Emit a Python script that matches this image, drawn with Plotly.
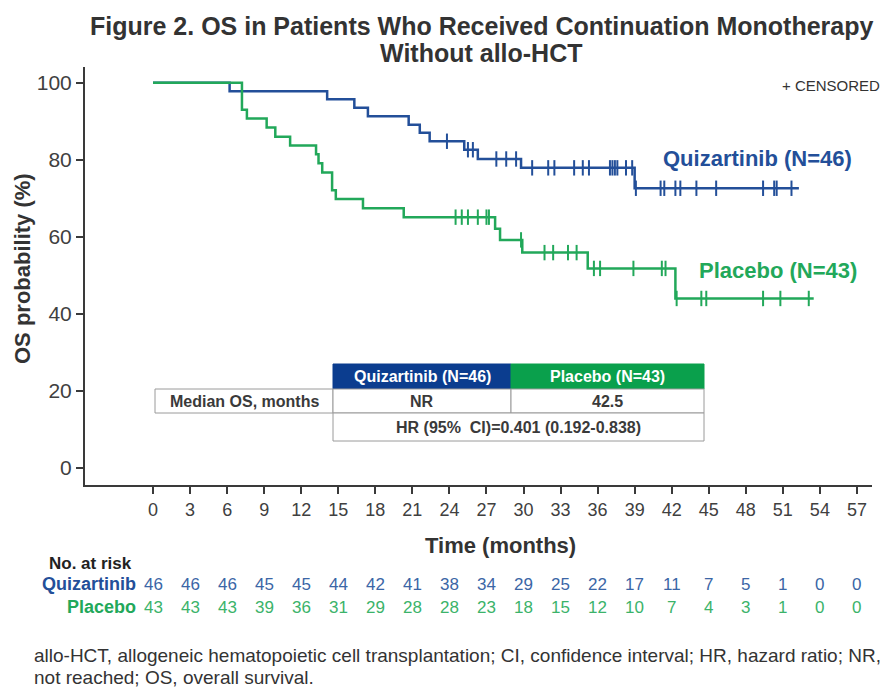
import plotly.graph_objects as go

# ---------------- data ----------------
quiz_times = [0, 6.2, 14.1, 16.3, 17.4, 20.7, 21.6, 22.4, 25.2, 26.3, 29.8, 39.0]
quiz_surv = [100, 97.8, 95.7, 93.5, 91.3, 89.1, 87.0, 84.8, 82.6, 80.2, 77.9, 72.6]
quiz_end = 52.3
quiz_censor = [23.8, 25.5, 25.9, 27.8, 28.6, 29.4, 30.7, 32.0, 32.5, 34.1, 34.8, 35.3,
               37.0, 37.2, 37.4, 37.6, 38.3, 38.8, 39.1, 41.1, 41.4, 42.3, 42.7, 44.0,
               45.6, 49.4, 50.3, 50.5, 51.7]

plac_times = [0, 7.2, 7.6, 9.2, 9.9, 11.1, 13.2, 13.4, 13.7, 14.5, 14.8, 17.0, 20.3,
              27.7, 28.1, 29.9, 35.2, 42.3]
plac_surv = [100, 93.0, 90.7, 88.4, 86.0, 83.7, 81.4, 79.1, 76.7, 72.1, 69.8, 67.4, 65.1,
             62.1, 59.2, 55.9, 51.8, 44.0]
plac_end = 53.5
plac_censor = [24.5, 25.0, 25.5, 26.3, 27.0, 27.2, 29.8, 31.7, 32.4, 33.6, 34.3, 35.7,
               36.2, 38.9, 41.2, 41.5, 42.4, 44.4, 44.8, 49.4, 50.8, 53.1]

risk_times = list(range(0, 58, 3))
quiz_risk = [46, 46, 46, 45, 45, 44, 42, 41, 38, 34, 29, 25, 22, 17, 11, 7, 5, 1, 0, 0]
plac_risk = [43, 43, 43, 39, 36, 31, 29, 28, 28, 23, 18, 15, 12, 10, 7, 4, 3, 1, 0, 0]

y_ticks = [0, 20, 40, 60, 80, 100]

title_lines = ["Figure 2. OS in Patients Who Received Continuation Monotherapy",
               "Without allo-HCT"]
footnote_lines = ["allo-HCT, allogeneic hematopoietic cell transplantation; CI, confidence interval; HR, hazard ratio; NR,",
                  "not reached; OS, overall survival."]

# ---------------- styles ----------------
BLUE = "#234f99"
BLUE_HDR = "#0b3d8f"
BLUE_RISK = "#3b66a6"
GREEN = "#22a85a"
GREEN_HDR = "#0aa04c"
GREEN_RISK = "#3bb36a"
DARK = "#333333"
FONT = "Liberation Sans, Arial, sans-serif"

W, H = 889, 691
L, R, T, B = 85, 872, 67, 485


def px(xp):
    return (xp - L) / (R - L)


def py(yp):
    return (B - yp) / (B - T)


def step_value(times, surv, t):
    v = surv[0]
    for ti, si in zip(times, surv):
        if ti <= t:
            v = si
    return v


fig = go.Figure()

for times, surv, end, cens, col in [
    (quiz_times, quiz_surv, quiz_end, quiz_censor, BLUE),
    (plac_times, plac_surv, plac_end, plac_censor, GREEN),
]:
    xs = list(times) + [end]
    ys = list(surv) + [surv[-1]]
    fig.add_trace(go.Scatter(x=xs, y=ys, mode="lines", line=dict(color=col, width=2.5, shape="hv"),
                             hoverinfo="skip"))
    fig.add_trace(go.Scatter(x=cens, y=[step_value(times, surv, c) for c in cens], mode="markers",
                             marker=dict(symbol="line-ns", size=11, line=dict(color=col, width=2)),
                             hoverinfo="skip"))

fig.update_layout(
    width=W, height=H,
    margin=dict(l=L, r=W - R, t=T, b=H - B),
    plot_bgcolor="white", paper_bgcolor="white",
    showlegend=False,
    font=dict(family=FONT, color=DARK),
    xaxis=dict(range=[-5.51, 58.22], tickvals=risk_times, showline=True, linecolor="#3a3a3a",
               linewidth=2, ticks="outside", ticklen=7, tickwidth=1.5, tickcolor="#3a3a3a",
               tickfont=dict(size=18, color="#404040"), showgrid=False, zeroline=False),
    yaxis=dict(range=[-4.41, 104.07], tickvals=y_ticks, showline=True, linecolor="#3a3a3a",
               linewidth=2, ticks="outside", ticklen=7, tickwidth=1.5, tickcolor="#3a3a3a",
               tickfont=dict(size=21, color="#404040"), showgrid=False, zeroline=False),
)

ann = []


def note(text, xp, yp, size, color, xanchor="center", xref="paper", **kw):
    ann.append(dict(text=text, x=(px(xp) if xref == "paper" else xp), y=py(yp), xref=xref, yref="paper",
                    showarrow=False, font=dict(size=size, color=color),
                    xanchor=xanchor, yanchor="middle", **kw))


# title
note("<b>%s</b>" % title_lines[0], 481, 26, 25, DARK)
note("<b>%s</b>" % title_lines[1], 481, 53, 25, DARK)
# axis titles
note("<b>OS probability (%)</b>", 22, 269, 22, DARK, textangle=-90)
note("<b>Time (months)</b>", 500, 545, 22, DARK)
# censored note
note("+ CENSORED", 882, 86, 15, DARK, xanchor="right")
# curve labels
note("<b>Quizartinib (N=46)</b>", 757, 158, 22, BLUE)
note("<b>Placebo (N=43)</b>", 778, 270, 22, GREEN)

# table
shapes = []


def cell(x0, x1, y0, y1, fill, text, tcol, border="#9a9a9a"):
    shapes.append(dict(type="rect", xref="paper", yref="paper", x0=px(x0), x1=px(x1), y0=py(y1), y1=py(y0),
                       fillcolor=fill, line=dict(color=border, width=1), layer="above"))
    note("<b>%s</b>" % text, (x0 + x1) / 2, (y0 + y1) / 2, 16, tcol)


cell(333, 511, 364, 389, BLUE_HDR, "Quizartinib (N=46)", "white", border=BLUE_HDR)
cell(511, 704, 364, 389, GREEN_HDR, "Placebo (N=43)", "white", border=GREEN_HDR)
cell(155, 333, 389, 413, "white", "Median OS, months", "#3a3a3a")
cell(333, 511, 389, 413, "white", "NR", "#3a3a3a")
cell(511, 704, 389, 413, "white", "42.5", "#3a3a3a")
cell(333, 704, 413, 441, "white", "HR (95%  CI)=0.401 (0.192-0.838)", "#3a3a3a")

# risk table
note("<b>No. at risk</b>", 47, 563, 17, "#222222", xanchor="left")
note("<b>Quizartinib</b>", 138, 584, 18, BLUE, xanchor="right")
note("<b>Placebo</b>", 138, 607, 18, GREEN, xanchor="right")
for t, q, p in zip(risk_times, quiz_risk, plac_risk):
    note(str(q), t, 584, 17, BLUE_RISK, xref="x")
    note(str(p), t, 607, 17, GREEN_RISK, xref="x")

# footnote
note(footnote_lines[0], 32, 655, 19, DARK, xanchor="left")
note(footnote_lines[1], 32, 677, 19, DARK, xanchor="left")

fig.update_layout(annotations=ann, shapes=shapes)
fig.write_html("out.html")
